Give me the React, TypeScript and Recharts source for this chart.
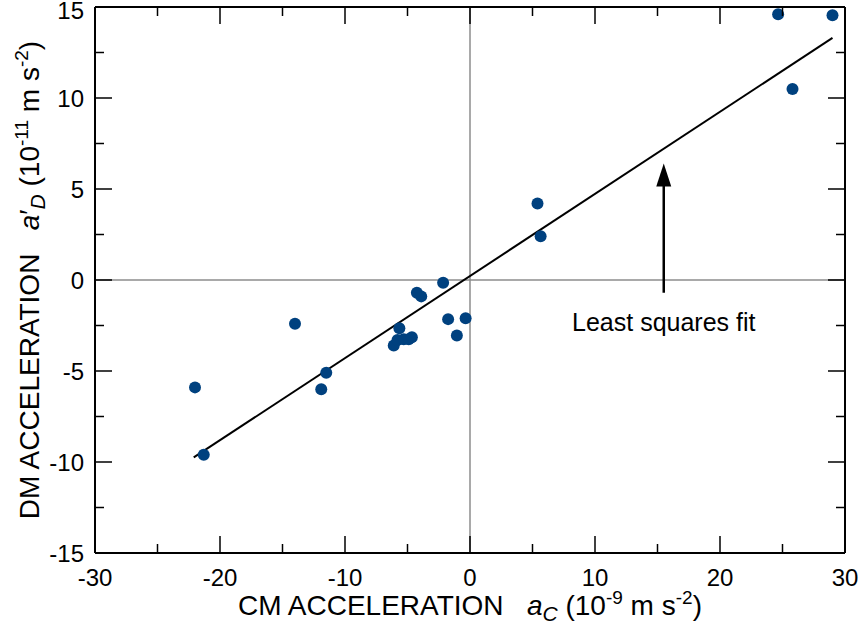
import React from "react";
import {
  ScatterChart,
  Scatter,
  XAxis,
  YAxis,
  ReferenceLine,
  ReferenceDot,
} from "recharts";

// measured points (CM acceleration vs DM acceleration)
const cmAccel = [
  -22.0, -21.3, -14.0, -11.9, -11.5, -6.1, -5.8, -5.65, -5.3, -4.9, -4.65, -4.25, -3.9,
  -2.15, -1.75, -1.05, -0.35, 5.4, 5.65, 24.65, 25.8, 29.0,
];
const dmAccel = [
  -5.9, -9.6, -2.4, -6.0, -5.1, -3.6, -3.3, -2.65, -3.25, -3.25, -3.15, -0.7, -0.9,
  -0.15, -2.15, -3.05, -2.1, 4.2, 2.4, 14.6, 10.5, 14.55,
];

// least squares fit endpoints
const fitX = [-22.1, 29.0];
const fitY = [-9.75, 13.3];

const xTicks = [-30, -25, -20, -15, -10, -5, 0, 5, 10, 15, 20, 25, 30];
const yTicks = [-15, -12.5, -10, -7.5, -5, -2.5, 0, 2.5, 5, 7.5, 10, 12.5, 15];

const points = cmAccel.map((x, i) => ({ x, y: dmAccel[i] }));
const fitLine = fitX.map((x, i) => ({ x, y: fitY[i] }));

const FONT = "'Liberation Sans', Arial, Helvetica, sans-serif";
const DOT = "#00417f";

// plot box (px)
const PT = 7;
const PB = 553;
const PL = 95;
const PR = 845;

const XTick = (props: any) => {
  const { x, payload } = props;
  const major = payload.value % 10 === 0;
  const len = major ? 17 : 9;
  return (
    <g>
      <line x1={x} x2={x} y1={PB} y2={PB - len} stroke="#000" strokeWidth={1.5} />
      <line x1={x} x2={x} y1={PT} y2={PT + len} stroke="#000" strokeWidth={1.5} />
      {major && (
        <text x={x} y={PB + 33} textAnchor="middle" fontSize={24} fontFamily={FONT} fill="#000">
          {payload.value}
        </text>
      )}
    </g>
  );
};

const YTick = (props: any) => {
  const { y, payload } = props;
  const major = payload.value % 5 === 0;
  const len = major ? 17 : 9;
  return (
    <g>
      <line x1={PL} x2={PL + len} y1={y} y2={y} stroke="#000" strokeWidth={1.5} />
      <line x1={PR} x2={PR - len} y1={y} y2={y} stroke="#000" strokeWidth={1.5} />
      {major && (
        <text x={PL - 11} y={Math.max(y, 10)} dy="0.36em" textAnchor="end" fontSize={24} fontFamily={FONT} fill="#000">
          {payload.value}
        </text>
      )}
    </g>
  );
};

const XLabel = () => (
  <text x={470} y={615} textAnchor="middle" fontSize={28} fontFamily={FONT} fill="#000">
    CM ACCELERATION{"\u00a0\u00a0 "}
    <tspan fontStyle="italic">a</tspan>
    <tspan fontStyle="italic" fontSize={21} dy={6}>C</tspan>
    <tspan dy={-6}>{" (10"}</tspan>
    <tspan fontSize={19} dy={-11}>-9</tspan>
    <tspan dy={11}>{" m s"}</tspan>
    <tspan fontSize={19} dy={-11}>-2</tspan>
    <tspan dy={11}>)</tspan>
  </text>
);

const YLabel = () => (
  <text
    transform="rotate(-90)"
    x={-280}
    y={39}
    textAnchor="middle"
    fontSize={28}
    fontFamily={FONT}
    fill="#000"
  >
    DM ACCELERATION{"\u00a0\u00a0 "}
    <tspan fontStyle="italic">a</tspan>
    <tspan>{"\u2032"}</tspan>
    <tspan fontStyle="italic" fontSize={21} dy={6}>D</tspan>
    <tspan dy={-6}>{" (10"}</tspan>
    <tspan fontSize={19} dy={-11}>-11</tspan>
    <tspan dy={11}>{" m s"}</tspan>
    <tspan fontSize={19} dy={-11}>-2</tspan>
    <tspan dy={11}>)</tspan>
  </text>
);

const Arrow = (props: any) => {
  const { x1, y1, x2, y2 } = props;
  const top = Math.min(y1, y2);
  const bottom = Math.max(y1, y2);
  const x = x1 ?? x2;
  return (
    <g>
      <line x1={x} x2={x} y1={bottom} y2={top + 20} stroke="#000" strokeWidth={2.5} />
      <polygon points={`${x},${top} ${x - 7.5},${top + 23} ${x + 7.5},${top + 23}`} fill="#000" />
    </g>
  );
};

export default function App() {
  return (
    <div style={{ position: "absolute", left: 0, top: 0, background: "#fff", fontFamily: FONT }}>
      <ScatterChart width={861} height={635} margin={{ top: PT, right: 861 - PR, bottom: 0, left: 0 }}>
        <XAxis
          type="number"
          dataKey="x"
          domain={[-30, 30]}
          ticks={xTicks}
          interval={0}
          allowDataOverflow
          height={635 - PB}
          tickLine={false}
          axisLine={{ stroke: "#000", strokeWidth: 2 }}
          tick={<XTick />}
          label={{ content: () => <XLabel /> }}
        />
        <YAxis
          type="number"
          dataKey="y"
          domain={[-15, 15]}
          ticks={yTicks}
          interval={0}
          allowDataOverflow
          width={PL}
          tickLine={false}
          axisLine={{ stroke: "#000", strokeWidth: 2 }}
          tick={<YTick />}
          label={{ content: () => <YLabel /> }}
        />
        <ReferenceLine x={0} stroke="#8c8c8c" strokeWidth={1.5} />
        <ReferenceLine y={0} stroke="#8c8c8c" strokeWidth={1.5} />
        <ReferenceLine y={15} stroke="#000" strokeWidth={2} />
        <ReferenceLine x={30} stroke="#000" strokeWidth={2} />
        <Scatter
          data={fitLine}
          line={{ stroke: "#000", strokeWidth: 2 }}
          shape={() => <g />}
          isAnimationActive={false}
          legendType="none"
        />
        <Scatter
          data={points}
          fill={DOT}
          shape={(p: any) => <circle cx={p.cx} cy={p.cy} r={6} fill={DOT} />}
          isAnimationActive={false}
        />
        <ReferenceLine
          segment={[
            { x: 15.5, y: -0.7 },
            { x: 15.5, y: 6.4 },
          ]}
          shape={Arrow}
        />
        <ReferenceDot
          x={15.5}
          y={-2.3}
          r={0}
          fill="none"
          stroke="none"
          label={{ value: "Least squares fit", position: "center", fontSize: 25, fill: "#000", fontFamily: FONT }}
        />
      </ScatterChart>
    </div>
  );
}
